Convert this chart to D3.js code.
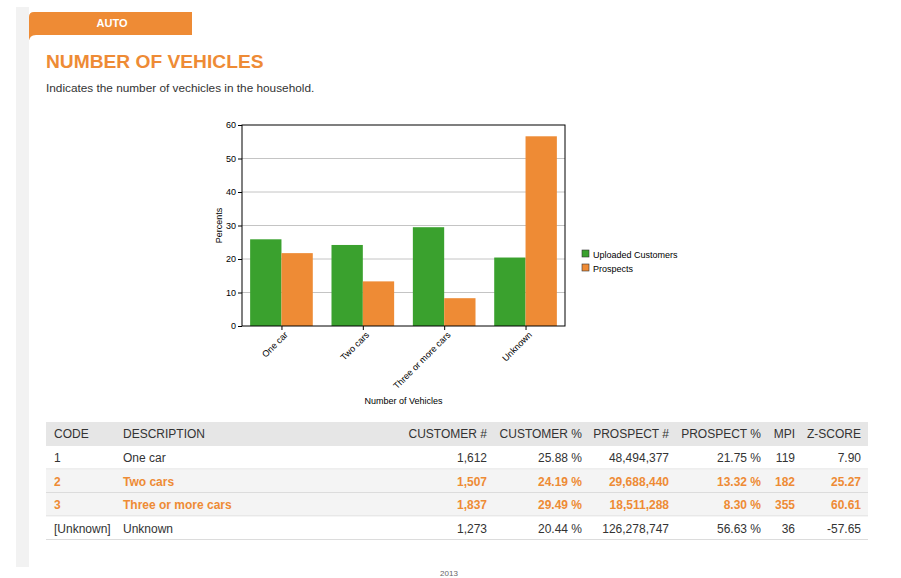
<!DOCTYPE html>
<html>
<head>
<meta charset="utf-8">
<script src="https://cdn.jsdelivr.net/npm/d3@7"></script>
<style>
  body { margin: 0; background: #fff; font-family: Arial, "Liberation Sans", sans-serif; }
  svg text { font-family: Arial, "Liberation Sans", sans-serif; }
</style>
</head>
<body>
<div id="page"></div>
<script>
const categories = ['One car', 'Two cars', 'Three or more cars', 'Unknown'];
const codes = ['1', '2', '3', '[Unknown]'];
const customerPct = [25.88, 24.19, 29.49, 20.44];
const prospectPct = [21.75, 13.32, 8.30, 56.63];
const customerCount = [1612, 1507, 1837, 1273];
const prospectCount = [48494377, 29688440, 18511288, 126278747];
const mpi = [119, 182, 355, 36];
const zScore = [7.90, 25.27, 60.61, -57.65];
const highlighted = [false, true, true, false];
const seriesNames = ['Uploaded Customers', 'Prospects'];
const yTicks = [0, 10, 20, 30, 40, 50, 60];

const ORANGE = '#ee8b35';
const GREEN = '#3aa12e';
const TEXT = '#333';

const W = 901, H = 578;
const svg = d3.select('#page').append('svg').attr('width', W).attr('height', H);

// page frame: grey strip, tab, white card
svg.append('rect').attr('x', 16).attr('y', 7).attr('width', 13).attr('height', 560).attr('fill', '#f2f2f2');
svg.append('path')
  .attr('d', 'M29,40 L29,17 Q29,12 34,12 L192,12 L192,40 Z')
  .attr('fill', ORANGE);
svg.append('path')
  .attr('d', 'M29,42 Q29,35 36,35 L901,35 L901,567 L29,567 Z')
  .attr('fill', '#fff');
svg.append('text').attr('x', 112).attr('y', 27).attr('text-anchor', 'middle')
  .attr('fill', '#fff').attr('font-size', 11).attr('font-weight', 'bold').text('AUTO');

svg.append('text').attr('x', 46).attr('y', 68).attr('fill', ORANGE)
  .attr('font-size', 19.2).attr('font-weight', 'bold').text('NUMBER OF VEHICLES');
svg.append('text').attr('x', 46).attr('y', 92).attr('fill', TEXT)
  .attr('font-size', 11.8).text('Indicates the number of vechicles in the household.');

// chart
const plot = { left: 242, right: 565, top: 125, bottom: 326 };
const chart = svg.append('g').attr('font-size', 9);

const x0 = d3.scaleBand().domain(categories).range([plot.left, plot.right]).paddingInner(0.23).paddingOuter(0.1);
const x1 = d3.scaleBand().domain(seriesNames).range([0, x0.bandwidth()]);
const y = d3.scaleLinear().domain([0, 60]).range([plot.bottom, plot.top]);
const color = d3.scaleOrdinal().domain(seriesNames).range([GREEN, ORANGE]);

chart.append('g').selectAll('line').data(yTicks.slice(1, -1)).join('line')
  .attr('x1', plot.left).attr('x2', plot.right)
  .attr('y1', d => y(d)).attr('y2', d => y(d))
  .attr('stroke', '#c4c4c4');

const groups = chart.append('g').selectAll('g').data(categories).join('g')
  .attr('transform', d => `translate(${x0(d)},0)`);
groups.selectAll('rect')
  .data((d, i) => [
    { s: seriesNames[0], v: customerPct[i] },
    { s: seriesNames[1], v: prospectPct[i] }
  ])
  .join('rect')
  .attr('x', d => x1(d.s)).attr('width', x1.bandwidth())
  .attr('y', d => y(d.v)).attr('height', d => y(0) - y(d.v))
  .attr('fill', d => color(d.s));

chart.append('rect').attr('x', plot.left).attr('y', plot.top)
  .attr('width', plot.right - plot.left).attr('height', plot.bottom - plot.top)
  .attr('fill', 'none').attr('stroke', '#000');

const yAxis = chart.append('g').attr('transform', `translate(${plot.left},0)`)
  .call(d3.axisLeft(y).tickValues(yTicks).tickSize(4).tickPadding(2));
yAxis.select('.domain').remove();
yAxis.selectAll('text').attr('font-size', 9).attr('fill', '#000').attr('font-family', 'Arial');

const xCenter = d3.scalePoint().domain(categories).range([x0(categories[0]) + x0.bandwidth() / 2, x0(categories[3]) + x0.bandwidth() / 2]);
const xAxis = chart.append('g').attr('transform', `translate(0,${plot.bottom})`)
  .call(d3.axisBottom(xCenter).tickSize(4).tickPadding(2));
xAxis.select('.domain').remove();
xAxis.selectAll('text')
  .attr('font-size', 9).attr('fill', '#000').attr('font-family', 'Arial')
  .attr('text-anchor', 'end').attr('dy', '0.35em')
  .attr('transform', 'translate(0,3) rotate(-45)');

chart.append('text').attr('transform', `translate(222,${(plot.top + plot.bottom) / 2}) rotate(-90)`)
  .attr('text-anchor', 'middle').text('Percents');
chart.append('text').attr('x', (plot.left + plot.right) / 2).attr('y', 404)
  .attr('text-anchor', 'middle').text('Number of Vehicles');

const legend = chart.append('g').selectAll('g').data(seriesNames).join('g')
  .attr('transform', (d, i) => `translate(582,${250 + i * 14})`);
legend.append('rect').attr('width', 7).attr('height', 7)
  .attr('fill', d => color(d)).attr('stroke', '#333').attr('stroke-width', 0.6);
legend.append('text').attr('x', 11).attr('y', 7.5).text(d => d);

// table
const tbl = { left: 46, right: 868, top: 422, headH: 24, rowH: 23.5 };
const fmtInt = d3.format(',');
const fmtPct = d => d.toFixed(2) + ' %';
const columns = [
  { h: 'CODE', x: 54, anchor: 'start', v: i => codes[i] },
  { h: 'DESCRIPTION', x: 123, anchor: 'start', v: i => categories[i] },
  { h: 'CUSTOMER #', x: 487, anchor: 'end', v: i => fmtInt(customerCount[i]) },
  { h: 'CUSTOMER %', x: 582, anchor: 'end', v: i => fmtPct(customerPct[i]) },
  { h: 'PROSPECT #', x: 669, anchor: 'end', v: i => fmtInt(prospectCount[i]) },
  { h: 'PROSPECT %', x: 761, anchor: 'end', v: i => fmtPct(prospectPct[i]) },
  { h: 'MPI', x: 795, anchor: 'end', v: i => String(mpi[i]) },
  { h: 'Z-SCORE', x: 861, anchor: 'end', v: i => zScore[i].toFixed(2) }
];

const table = svg.append('g').attr('font-size', 12);
table.append('rect').attr('x', tbl.left).attr('y', tbl.top)
  .attr('width', tbl.right - tbl.left).attr('height', tbl.headH).attr('fill', '#e6e6e6');
table.selectAll('text.head').data(columns).join('text').attr('class', 'head')
  .attr('x', d => d.x).attr('y', tbl.top + 16).attr('text-anchor', d => d.anchor)
  .attr('fill', TEXT).text(d => d.h);

const rows = table.selectAll('g.row').data(categories.map((c, i) => i)).join('g').attr('class', 'row')
  .attr('transform', i => `translate(0,${tbl.top + tbl.headH + i * tbl.rowH})`);
rows.append('rect').attr('x', tbl.left).attr('width', tbl.right - tbl.left).attr('height', tbl.rowH)
  .attr('fill', i => highlighted[i] ? '#f4f4f4' : '#fff');
rows.append('line').attr('x1', tbl.left).attr('x2', tbl.right)
  .attr('y1', tbl.rowH - 0.5).attr('y2', tbl.rowH - 0.5).attr('stroke', '#dcdcdc');
rows.each(function (i) {
  d3.select(this).selectAll('text').data(columns).join('text')
    .attr('x', d => d.x).attr('y', 16).attr('text-anchor', d => d.anchor)
    .attr('fill', highlighted[i] ? ORANGE : TEXT)
    .attr('font-weight', highlighted[i] ? 'bold' : 'normal')
    .text(d => d.v(i));
});

svg.append('text').attr('x', 449).attr('y', 576).attr('text-anchor', 'middle')
  .attr('font-size', 8).attr('fill', '#666').text('2013');
</script>
</body>
</html>
